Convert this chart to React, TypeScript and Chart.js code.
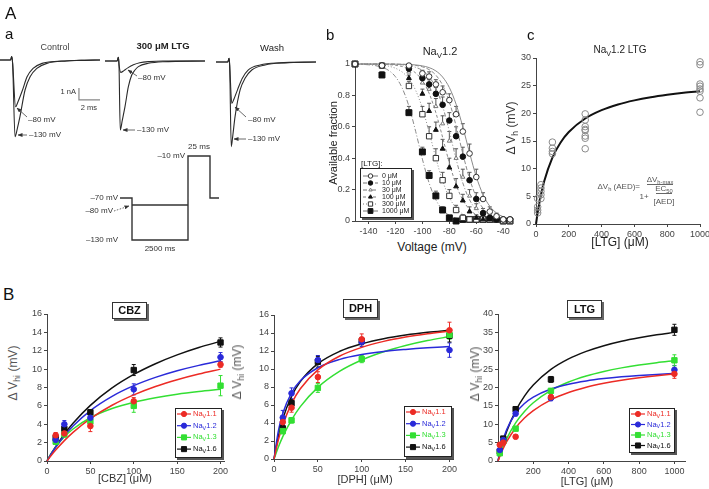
import React, { useEffect, useRef } from 'react';
import { Chart, registerables } from 'chart.js';

Chart.register(...registerables);
const FONT = "'Liberation Sans', Arial, Helvetica, sans-serif";
Chart.defaults.font.family = FONT;

// ================= Panel A-a: Na+ current traces (time ms, current nA) =================
const ctrlT130 = [0, 1.0, 1.11, 1.2, 1.43, 1.65, 1.9, 2.38, 2.86, 3.5, 4.45, 6.35, 8, 9.5];
const ctrlI130 = [0, 0, 0.28, -0.3, -6.4, -5.7, -4.7, -2.5, -1.4, -0.7, -0.28, -0.08, -0.02, 0];
const ctrlT80 = [0, 1.0, 1.11, 1.2, 1.48, 1.7, 2.14, 2.57, 3.14, 4.0, 5.5, 7.5, 9.5];
const ctrlI80 = [0, 0, 0.28, -0.3, -3.9, -3.5, -2.5, -1.4, -0.7, -0.28, -0.1, -0.03, 0];
const ltgT130 = [0, 1.15, 1.27, 1.33, 1.45, 1.65, 1.9, 2.22, 2.54, 2.85, 3.17, 4.12, 5.5, 9.5];
const ltgI130 = [0, 0, 0.3, -0.3, -5.75, -4.9, -3.8, -2.14, -1.17, -0.75, -0.47, -0.19, -0.06, 0];
const ltgT80 = [0, 1.15, 1.27, 1.33, 1.5, 1.8, 2.2, 2.7, 3.3, 4.2, 5.5, 9.5];
const ltgI80 = [0, 0, 0.3, -0.3, -0.95, -0.8, -0.55, -0.32, -0.15, -0.05, 0, 0];
const washT130 = [0, 1.12, 1.24, 1.3, 1.45, 1.6, 1.81, 2.29, 2.76, 3.4, 4.67, 6.5, 9.5];
const washI130 = [0, 0, 0.3, -0.3, -7.05, -6.1, -4.55, -2.33, -1.36, -0.67, -0.25, -0.07, 0];
const washT80 = [0, 1.12, 1.24, 1.3, 1.5, 1.7, 2.05, 2.5, 3.05, 4.2, 6, 9.5];
const washI80 = [0, 0, 0.3, -0.3, -3.45, -3.1, -2.3, -1.35, -0.67, -0.25, -0.07, 0];
const scaleBarT = [7.5, 7.5, 9.5];
const scaleBarI = [-2.33, -3.33, -3.33];

// Voltage protocol (schematic time position, mV)
const protoX = [0, 12, 12, 68, 68, 90, 90, 99];
const protoV = [-70, -70, -130, -130, -10, -10, -70, -70];
const protoX80 = [12, 68];
const protoV80 = [-80, -80];

// ================= Panel A-b: availability vs voltage =================
const bConcLabels = ['0 \u03bcM', '10 \u03bcM', '30 \u03bcM', '100 \u03bcM', '300 \u03bcM', '1000 \u03bcM'];
const bVolt = [-150, -130, -110, -100, -95, -90, -85, -80, -75, -70, -65, -60, -55, -50, -45, -40, -35];
const b0 = [1.0, 0.99, 0.99, 0.94, 0.92, 0.87, 0.82, 0.77, 0.68, 0.57, 0.43, 0.28, 0.14, 0.06, 0.03, 0.01, 0.01];
const b10 = [1.0, 0.99, 0.97, 0.91, 0.87, 0.81, 0.74, 0.64, 0.54, 0.41, 0.26, 0.14, 0.05, 0.02, 0.01, 0.01, 0.01];
const b30 = [1.0, 0.99, 0.95, 0.88, 0.84, 0.73, 0.62, 0.51, 0.4, 0.28, 0.16, 0.08, 0.04, 0.02, 0.01, 0.01, 0.01];
const b100 = [1.0, 0.99, 0.91, 0.81, 0.7, 0.58, 0.46, 0.34, 0.22, 0.13, 0.06, 0.02, 0.01, 0.01, 0.01, 0.01, 0.01];
const b300 = [1.0, 0.99, 0.86, 0.68, 0.54, 0.4, 0.26, 0.16, 0.07, 0.02, 0.01, 0.01, 0.01, 0.01, 0.01, 0.0, 0.0];
const b1000 = [1.0, 0.93, 0.69, 0.44, 0.29, 0.16, 0.07, 0.02, 0.0, 0.01, 0.01, 0.01, 0.01, 0.01, 0.01, 0.0, 0.0];
const bErr0 = [0, 0, 0.01, 0.02, 0.03, 0.03, 0.04, 0.04, 0.05, 0.05, 0.06, 0.05, 0.04, 0.03, 0.02, 0, 0];
const bErr10 = [0, 0, 0.02, 0.03, 0.03, 0.04, 0.05, 0.05, 0.06, 0.06, 0.05, 0.04, 0.03, 0.02, 0, 0, 0];
const bErr30 = [0, 0, 0.02, 0.03, 0.04, 0.05, 0.05, 0.06, 0.06, 0.05, 0.04, 0.03, 0.02, 0.01, 0, 0, 0];
const bErr100 = [0, 0, 0.02, 0.03, 0.05, 0.05, 0.06, 0.06, 0.05, 0.04, 0.03, 0.02, 0.01, 0, 0, 0, 0];
const bErr300 = [0, 0, 0.03, 0.05, 0.06, 0.06, 0.05, 0.04, 0.03, 0.02, 0.01, 0, 0, 0, 0, 0, 0];
const bErr1000 = [0, 0.02, 0.04, 0.03, 0.03, 0.03, 0.02, 0.01, 0, 0, 0, 0, 0, 0, 0, 0, 0];
// Boltzmann fit curves
const bFitV = [-150, -145, -140, -135, -130, -125, -120, -115, -110, -105, -100, -95, -90, -85, -80, -75, -70, -65, -60, -55, -50, -45, -40, -35];
const bFit0 = [1, 1, 1, 1, 1, 1, 0.999, 0.998, 0.997, 0.994, 0.988, 0.977, 0.956, 0.917, 0.85, 0.744, 0.599, 0.434, 0.282, 0.168, 0.094, 0.051, 0.027, 0.014];
const bFit10 = [1, 1, 1, 1, 1, 1, 0.999, 0.998, 0.996, 0.991, 0.982, 0.964, 0.929, 0.865, 0.758, 0.606, 0.429, 0.269, 0.153, 0.081, 0.041, 0.021, 0.01, 0.005];
const bFit30 = [1, 1, 1, 1, 0.999, 0.999, 0.998, 0.995, 0.99, 0.979, 0.959, 0.919, 0.847, 0.731, 0.571, 0.394, 0.242, 0.135, 0.071, 0.036, 0.018, 0.009, 0.004, 0.002];
const bFit100 = [1, 1, 0.999, 0.999, 0.998, 0.996, 0.992, 0.984, 0.97, 0.943, 0.894, 0.813, 0.69, 0.533, 0.37, 0.231, 0.134, 0.074, 0.039, 0.02, 0.011, 0.005, 0.003, 0.001];
const bFit300 = [0.999, 0.999, 0.998, 0.996, 0.993, 0.986, 0.973, 0.949, 0.906, 0.832, 0.718, 0.566, 0.401, 0.256, 0.15, 0.083, 0.044, 0.023, 0.012, 0.006, 0.003, 0.002, 0.001, 0];
const bFit1000 = [0.999, 0.998, 0.995, 0.99, 0.979, 0.959, 0.919, 0.847, 0.731, 0.571, 0.394, 0.242, 0.135, 0.071, 0.036, 0.018, 0.009, 0.004, 0.002, 0.001, 0, 0, 0, 0];
const bXTicks = [-140, -120, -100, -80, -60, -40];
const bYTicks = [0, 0.2, 0.4, 0.6, 0.8, 1];

// ================= Panel A-c: dVh vs [LTG] =================
const cX = [10, 10, 10, 10, 30, 30, 30, 30, 30, 100, 100, 100, 100, 300, 300, 300, 300, 300, 300, 300, 300, 1000, 1000, 1000, 1000, 1000, 1000, 1000, 1000];
const cY = [2.0, 2.5, 3.1, 4.6, 4.6, 5.3, 5.9, 6.5, 7.1, 12.7, 13.1, 13.7, 14.8, 13.6, 15.5, 15.9, 16.9, 17.1, 17.6, 18.8, 19.9, 20.2, 22.8, 24.0, 24.4, 24.9, 25.3, 28.8, 29.3];
const cFitX = [0, 10, 25, 50, 100, 150, 200, 300, 400, 500, 600, 700, 800, 900, 1000];
const cFitY = [0, 2.0, 4.5, 7.71, 12.0, 14.73, 16.62, 19.06, 20.57, 21.6, 22.34, 22.91, 23.35, 23.71, 24.0];
const cXTicks = [0, 200, 400, 600, 800, 1000];
const cYTicks = [0, 5, 10, 15, 20, 25, 30];

// ================= Panel B =================
const seriesNames = ['1.1', '1.2', '1.3', '1.6'];
const seriesColors = ['#ec2b25', '#2a2ad9', '#33df33', '#111111'];
const seriesMarkers = ['circle', 'circle', 'rect', 'rect'];

const cbzConc = [10, 20, 50, 100, 200];
const cbz11 = [2.8, 3.0, 3.8, 6.5, 10.5];
const cbz12 = [2.3, 4.0, 4.7, 7.8, 11.3];
const cbz13 = [2.1, 2.9, 4.3, 6.0, 8.2];
const cbz16 = [2.5, 3.5, 5.3, 9.9, 12.9];
const cbzErr11 = [0.3, 0.3, 0.6, 0.4, 0.3];
const cbzErr12 = [0.3, 0.4, 0.4, 0.6, 0.5];
const cbzErr13 = [0.3, 0.3, 0.5, 0.7, 1.1];
const cbzErr16 = [0.3, 0.4, 0.3, 0.6, 0.5];
const cbzFitX = [0, 5, 10, 20, 30, 50, 75, 100, 125, 150, 175, 200];
const cbzFit11 = [0, 0.62, 1.19, 2.22, 3.12, 4.62, 6.07, 7.2, 8.11, 8.85, 9.47, 10.0];
const cbzFit12 = [0, 0.79, 1.5, 2.75, 3.81, 5.49, 7.04, 8.2, 9.1, 9.82, 10.41, 10.9];
const cbzFit13 = [0, 0.82, 1.51, 2.63, 3.48, 4.71, 5.71, 6.4, 6.89, 7.27, 7.56, 7.8];
const cbzFit16 = [0, 0.82, 1.57, 2.93, 4.11, 6.06, 7.95, 9.42, 10.59, 11.55, 12.35, 13.02];

const dphConc = [10, 20, 50, 100, 200];
const dph11 = [4.1, 5.7, 9.1, 13.3, 14.3];
const dph12 = [4.6, 7.3, 11.0, 13.0, 12.1];
const dph13 = [3.1, 4.3, 7.9, 11.1, 13.8];
const dph16 = [3.4, 6.2, 10.8, 13.1, 13.7];
const dphErr11 = [0.4, 0.5, 0.6, 0.6, 0.9];
const dphErr12 = [0.8, 0.6, 0.5, 0.5, 0.8];
const dphErr13 = [0.3, 0.3, 0.5, 0.4, 0.5];
const dphErr16 = [0.4, 0.4, 0.6, 0.4, 0.7];
const dphFitX = [0, 5, 10, 20, 30, 50, 75, 100, 125, 150, 175, 200];
const dphFit11 = [0, 2.13, 3.78, 6.16, 7.8, 9.9, 11.44, 12.4, 13.07, 13.55, 13.91, 14.2];
const dphFit12 = [0, 3.11, 5.06, 7.36, 8.69, 10.14, 11.07, 11.6, 11.95, 12.18, 12.36, 12.5];
const dphFit13 = [0, 1.33, 2.48, 4.35, 5.82, 7.96, 9.76, 11.0, 11.91, 12.61, 13.16, 13.6];
const dphFit16 = [0, 2.57, 4.44, 6.97, 8.6, 10.59, 11.97, 12.8, 13.37, 13.77, 14.07, 14.3];

const ltgConc = [10, 30, 100, 300, 1000];
const ltg11 = [4.4, 5.0, 6.6, 17.4, 23.7];
const ltg12 = [3.0, 5.7, 12.9, 17.1, 24.8];
const ltg13 = [2.1, 5.4, 8.8, 19.1, 27.4];
const ltg16 = [2.6, 6.1, 14.1, 22.2, 35.7];
const ltgErr11 = [0.4, 0.4, 0.5, 0.6, 1.2];
const ltgErr12 = [0.4, 0.4, 0.6, 0.7, 1.2];
const ltgErr13 = [0.3, 0.4, 0.6, 0.6, 1.5];
const ltgErr16 = [0.4, 0.4, 0.6, 0.8, 1.5];
const ltgFitX = [0, 10, 25, 50, 100, 150, 200, 300, 400, 500, 600, 700, 800, 900, 1000];
const ltgFit11 = [0, 1.25, 2.93, 5.33, 9.0, 11.68, 13.73, 16.65, 18.63, 20.06, 21.14, 21.99, 22.67, 23.23, 23.7];
const ltgFit12 = [0, 2.35, 5.17, 8.64, 13.0, 15.63, 17.38, 19.58, 20.91, 21.79, 22.42, 22.9, 23.27, 23.56, 23.8];
const ltgFit13 = [0, 1.44, 3.39, 6.15, 10.39, 13.48, 15.84, 19.2, 21.48, 23.12, 24.36, 25.34, 26.12, 26.76, 27.3];
const ltgFit16 = [0, 1.93, 4.51, 8.14, 13.66, 17.65, 20.66, 24.91, 27.77, 29.82, 31.37, 32.58, 33.54, 34.34, 35.0];

const smallXTicks = [0, 50, 100, 150, 200];
const smallYTicks = [0, 2, 4, 6, 8, 10, 12, 14, 16];
const ltgXTicks = [200, 400, 600, 800, 1000];
const ltgYTicks = [0, 5, 10, 15, 20, 25, 30, 35, 40];

// ================= helpers =================
const pts = (xs: number[], ys: number[]) => xs.map((x, i) => ({ x, y: ys[i] }));

function axis(min: number, max: number, ticks: number[], isY: boolean, size: number) {
  return {
    type: 'linear',
    min,
    max,
    afterBuildTicks: (s: any) => {
      s.ticks = ticks.map((v) => ({ value: v }));
    },
    afterFit: (s: any) => {
      if (isY) s.width = size;
      else s.height = size;
      s.paddingLeft = 0;
      s.paddingRight = 0;
      s.paddingTop = 0;
      s.paddingBottom = 0;
    },
    grid: { display: true, drawOnChartArea: false, drawTicks: true, tickLength: 3, color: '#444', lineWidth: 1 },
    border: { display: true, color: '#444', width: 1 },
    ticks: {
      font: { size: 9, family: FONT }, color: '#444', padding: 2, autoSkip: false, maxRotation: 0, minRotation: 0,
      callback: (v: any) => String(v),
    },
  };
}

function drawMarker(ctx: CanvasRenderingContext2D, style: string, x: number, y: number, r: number, fill: string, stroke: string) {
  ctx.beginPath();
  if (style === 'circle') ctx.arc(x, y, r, 0, Math.PI * 2);
  else if (style === 'rect') {
    const s = r * Math.SQRT1_2;
    ctx.rect(x - s, y - s, 2 * s, 2 * s);
  } else if (style === 'triangle') {
    ctx.moveTo(x, y - r);
    ctx.lineTo(x + r * 0.866, y + r * 0.5);
    ctx.lineTo(x - r * 0.866, y + r * 0.5);
    ctx.closePath();
  }
  ctx.fillStyle = fill;
  ctx.fill();
  ctx.strokeStyle = stroke;
  ctx.lineWidth = 1;
  ctx.stroke();
}

type Part = { t: string; sub?: boolean };
function drawRich(ctx: CanvasRenderingContext2D, parts: Part[], x: number, y: number, size: number, color: string) {
  let cx = x;
  ctx.fillStyle = color;
  ctx.textBaseline = 'middle';
  ctx.textAlign = 'left';
  parts.forEach((p) => {
    const s = p.sub ? size * 0.72 : size;
    ctx.font = `${s}px ${FONT}`;
    ctx.fillText(p.t, cx, y + (p.sub ? size * 0.32 : 0));
    cx += ctx.measureText(p.t).width;
  });
}

type LegItem = { parts: Part[]; color: string; textColor: string; style: string; r: number; fill: string; stroke: string; dash: number[]; lw: number };
type LegCfg = { dx: number; dy: number; w: number; h: number; first: number; step: number; lx0: number; lx1: number; tx: number; size: number; items: LegItem[] };

function legendPlugin(cfg: LegCfg) {
  return {
    id: 'boxLegend',
    afterDraw(chart: any) {
      const ctx: CanvasRenderingContext2D = chart.ctx;
      const ca = chart.chartArea;
      const x = Math.round(ca.left + cfg.dx);
      const y = Math.round(ca.bottom + cfg.dy);
      ctx.save();
      ctx.fillStyle = '#555';
      ctx.fillRect(x + 2, y + 2, cfg.w, cfg.h);
      ctx.fillStyle = '#fff';
      ctx.fillRect(x, y, cfg.w, cfg.h);
      ctx.strokeStyle = '#222';
      ctx.lineWidth = 1;
      ctx.strokeRect(x + 0.5, y + 0.5, cfg.w - 1, cfg.h - 1);
      cfg.items.forEach((it, i) => {
        const cy = y + cfg.first + i * cfg.step;
        ctx.strokeStyle = it.color;
        ctx.lineWidth = it.lw;
        ctx.setLineDash(it.dash);
        ctx.beginPath();
        ctx.moveTo(x + cfg.lx0, cy);
        ctx.lineTo(x + cfg.lx1, cy);
        ctx.stroke();
        ctx.setLineDash([]);
        drawMarker(ctx, it.style, x + (cfg.lx0 + cfg.lx1) / 2, cy, it.r, it.fill, it.stroke);
        drawRich(ctx, it.parts, x + cfg.tx, cy, cfg.size, it.textColor);
      });
      ctx.restore();
    },
  };
}

const errPlugin = {
  id: 'errBars',
  beforeDatasetsDraw(chart: any) {
    const ctx: CanvasRenderingContext2D = chart.ctx;
    const xs = chart.scales.x;
    const ys = chart.scales.y;
    chart.data.datasets.forEach((ds: any) => {
      if (!ds.errs) return;
      ctx.save();
      ctx.strokeStyle = ds.errColor;
      ctx.lineWidth = 1;
      ds.data.forEach((p: any, j: number) => {
        const e = ds.errs[j];
        if (!e) return;
        const px = xs.getPixelForValue(p.x);
        const yTop = ys.getPixelForValue(p.y + e);
        const yBot = ds.errUp ? ys.getPixelForValue(p.y) : ys.getPixelForValue(p.y - e);
        const cap = 2;
        ctx.beginPath();
        ctx.moveTo(px, yTop);
        ctx.lineTo(px, yBot);
        ctx.moveTo(px - cap, yTop);
        ctx.lineTo(px + cap, yTop);
        if (!ds.errUp) {
          ctx.moveTo(px - cap, yBot);
          ctx.lineTo(px + cap, yBot);
        }
        ctx.stroke();
      });
      ctx.restore();
    });
  },
};

type Spec = { l: number; t: number; r: number; b: number; ml: number; mt: number; mr: number; mb: number; axes: boolean; make: (s: Spec, pad: any) => any };

function ChartView({ s }: { s: Spec }) {
  const ref = useRef<HTMLCanvasElement | null>(null);
  const left = s.l - s.ml;
  const top = s.t - s.mt;
  const w = s.r - s.l + s.ml + s.mr;
  const h = s.b - s.t + s.mt + s.mb;
  useEffect(() => {
    const pad = s.axes ? { left: 0, top: s.mt, right: s.mr, bottom: 0 } : { left: s.ml, top: s.mt, right: s.mr, bottom: s.mb };
    const chart = new Chart(ref.current as HTMLCanvasElement, s.make(s, pad));
    return () => chart.destroy();
  }, []);
  return <canvas ref={ref} width={w} height={h} style={{ position: 'absolute', left, top, width: w, height: h }} />;
}

const baseOpts = (pad: any, scales: any) => ({
  responsive: false,
  animation: false,
  events: [],
  layout: { padding: pad },
  scales,
  plugins: { legend: { display: false }, tooltip: { enabled: false } },
});

type TraceSet = { t: number[]; i: number[]; color?: string; width?: number; sharp?: boolean };
function traceMaker(sets: TraceSet[], xr: number[], yr: number[]) {
  return (_s: Spec, pad: any) => ({
    type: 'line',
    data: {
      datasets: sets.map((d) => ({
        data: pts(d.t, d.i),
        borderColor: d.color || '#2a2a2a',
        borderWidth: d.width || 1.1,
        pointRadius: 0,
        cubicInterpolationMode: d.sharp ? 'default' : 'monotone',
        tension: 0,
        clip: false,
      })),
    },
    options: baseOpts(pad, {
      x: { type: 'linear', display: false, min: xr[0], max: xr[1] },
      y: { type: 'linear', display: false, min: yr[0], max: yr[1] },
    }),
  });
}

// ---------- panel b ----------
const bSeries = [b0, b10, b30, b100, b300, b1000];
const bErrs = [bErr0, bErr10, bErr30, bErr100, bErr300, bErr1000];
const bFits = [bFit0, bFit10, bFit30, bFit100, bFit300, bFit1000];
const bStyle = ['circle', 'circle', 'triangle', 'triangle', 'rect', 'rect'];
const bFill = ['#ffffff', '#111111', '#ffffff', '#111111', '#ffffff', '#111111'];
const bStroke = ['#333333', '#111111', '#777777', '#111111', '#333333', '#111111'];
const bRad = [2.8, 2.8, 2.4, 2.8, 3.8, 4.2];
const bDash = [[], [4, 2], [4, 2, 1, 2], [3, 2], [1, 2], [5, 2, 1, 2]];

const makeB = (s: Spec, pad: any) => ({
  type: 'line',
  data: {
    datasets: [
      ...bSeries.map((ser, i) => ({
        data: pts(bVolt, ser),
        showLine: false,
        pointStyle: bStyle[i],
        pointRadius: bRad[i],
        pointBackgroundColor: bFill[i],
        pointBorderColor: bStroke[i],
        pointBorderWidth: 1,
        borderColor: bStroke[i],
        errs: bErrs[i],
        errColor: '#555',
        errUp: true,
        clip: false,
      })),
      ...bFits.map((f, i) => ({
        data: pts(bFitV, f),
        borderColor: '#8a8a8a',
        borderWidth: 1,
        borderDash: bDash[i],
        pointRadius: 0,
        cubicInterpolationMode: 'monotone',
        clip: false,
      })),
    ],
  },
  options: baseOpts(pad, { x: axis(-150, -35, bXTicks, false, s.mb), y: axis(0, 1, bYTicks, true, s.ml) }),
  plugins: [
    errPlugin,
    legendPlugin({
      dx: 5, dy: -53, w: 52, h: 50, first: 8, step: 7, lx0: 3, lx1: 18, tx: 22, size: 7,
      items: bConcLabels.map((lab, i) => ({
        parts: [{ t: lab }], color: '#777', textColor: '#222', style: bStyle[i], r: bRad[i] * 0.8,
        fill: bFill[i], stroke: bStroke[i], dash: bDash[i], lw: 1,
      })),
    }),
  ],
});

// ---------- panel c ----------
const makeC = (s: Spec, pad: any) => ({
  type: 'line',
  data: {
    datasets: [
      {
        data: pts(cX, cY), showLine: false, pointStyle: 'circle', pointRadius: 3.3,
        pointBackgroundColor: 'rgba(0,0,0,0)', pointBorderColor: '#8a8a8a', pointBorderWidth: 1, borderColor: '#8a8a8a', clip: false,
      },
      { data: pts(cFitX, cFitY), borderColor: '#111', borderWidth: 2, pointRadius: 0, cubicInterpolationMode: 'monotone', clip: false },
    ],
  },
  options: baseOpts(pad, { x: axis(0, 1000, cXTicks, false, s.mb), y: axis(0, 30, cYTicks, true, s.ml) }),
});

// ---------- panel B ----------
function makeDrug(conc: number[], means: number[][], errs: number[][], fitX: number[], fits: number[][], xr: number[], xt: number[], yr: number[], yt: number[], leg: { dx: number; dy: number; w: number; h: number; step: number }) {
  return (s: Spec, pad: any) => ({
    type: 'line',
    data: {
      datasets: [
        ...means.map((m, i) => ({
          data: pts(conc, m), showLine: false, pointStyle: seriesMarkers[i], pointRadius: seriesMarkers[i] === 'rect' ? 3.8 : 2.8,
          pointBackgroundColor: seriesColors[i], pointBorderColor: seriesColors[i], pointBorderWidth: 1, borderColor: seriesColors[i],
          errs: errs[i], errColor: seriesColors[i], errUp: false, clip: false,
        })),
        ...fits.map((f, i) => ({
          data: pts(fitX, f), borderColor: seriesColors[i], borderWidth: 1.5, pointRadius: 0, cubicInterpolationMode: 'monotone', clip: false,
        })),
      ],
    },
    options: baseOpts(pad, { x: axis(xr[0], xr[1], xt, false, s.mb), y: axis(yr[0], yr[1], yt, true, s.ml) }),
    plugins: [
      errPlugin,
      legendPlugin({
        dx: leg.dx, dy: leg.dy, w: leg.w, h: leg.h, first: 6, step: leg.step, lx0: 2, lx1: 16, tx: 18, size: 7.5,
        items: seriesNames.map((n, i) => ({
          parts: [{ t: 'Na' }, { t: 'V', sub: true }, { t: n }], color: seriesColors[i], textColor: seriesColors[i],
          style: seriesMarkers[i], r: seriesMarkers[i] === 'rect' ? 3.6 : 2.6, fill: seriesColors[i], stroke: seriesColors[i], dash: [], lw: 1.2,
        })),
      }),
    ],
  });
}

const specs: Spec[] = [
  { l: 0, t: 48, r: 100, b: 150, ml: 2, mt: 2, mr: 2, mb: 2, axes: false,
    make: traceMaker([{ t: ctrlT130, i: ctrlI130 }, { t: ctrlT80, i: ctrlI80 }, { t: scaleBarT, i: scaleBarI, color: '#888', width: 1.2, sharp: true }], [0, 9.5], [-7.5, 1]) },
  { l: 105, t: 49, r: 205, b: 151, ml: 2, mt: 2, mr: 2, mb: 2, axes: false,
    make: traceMaker([{ t: ltgT130, i: ltgI130 }, { t: ltgT80, i: ltgI80 }], [0, 9.5], [-7.5, 1]) },
  { l: 216, t: 50, r: 316, b: 152, ml: 2, mt: 2, mr: 2, mb: 2, axes: false,
    make: traceMaker([{ t: washT130, i: washI130 }, { t: washT80, i: washI80 }], [0, 9.5], [-7.5, 1]) },
  { l: 120, t: 156, r: 219, b: 240, ml: 3, mt: 3, mr: 3, mb: 3, axes: false,
    make: traceMaker([{ t: protoX, i: protoV, color: '#333', width: 1.4, sharp: true }, { t: protoX80, i: protoV80, color: '#333', width: 1.4, sharp: true }], [0, 99], [-130, -10]) },
  { l: 355, t: 64, r: 510, b: 221, ml: 24, mt: 6, mr: 8, mb: 16, axes: true, make: makeB },
  { l: 536, t: 58, r: 700, b: 224, ml: 20, mt: 6, mr: 9, mb: 16, axes: true, make: makeC },
  { l: 47, t: 313, r: 224, b: 461, ml: 22, mt: 4, mr: 8, mb: 14, axes: true,
    make: makeDrug(cbzConc, [cbz11, cbz12, cbz13, cbz16], [cbzErr11, cbzErr12, cbzErr13, cbzErr16], cbzFitX, [cbzFit11, cbzFit12, cbzFit13, cbzFit16], [0, 204], smallXTicks, [0, 16], smallYTicks, { dx: 128, dy: -53, w: 47, h: 50, step: 11.7 }) },
  { l: 274, t: 314, r: 453, b: 459, ml: 22, mt: 4, mr: 8, mb: 14, axes: true,
    make: makeDrug(dphConc, [dph11, dph12, dph13, dph16], [dphErr11, dphErr12, dphErr13, dphErr16], dphFitX, [dphFit11, dphFit12, dphFit13, dphFit16], [0, 204], smallXTicks, [0, 16], smallYTicks, { dx: 130, dy: -53, w: 48, h: 51, step: 11.7 }) },
  { l: 498, t: 313, r: 685, b: 461, ml: 22, mt: 4, mr: 10, mb: 14, axes: true,
    make: makeDrug(ltgConc, [ltg11, ltg12, ltg13, ltg16], [ltgErr11, ltgErr12, ltgErr13, ltgErr16], ltgFitX, [ltgFit11, ltgFit12, ltgFit13, ltgFit16], [0, 1060], ltgXTicks, [0, 40], ltgYTicks, { dx: 131, dy: -53, w: 46, h: 45, step: 10.5 }) },
];

// ---------- HTML text ----------
const Sub = ({ children }: any) => <span style={{ fontSize: '0.72em', position: 'relative', top: '0.35em' }}>{children}</span>;

function Txt({ x, y, a = 'l', s = 9, b = false, c = '#333', rot = false, children }: any) {
  const tx = a === 'c' ? '-50%' : a === 'r' ? '-100%' : '0';
  return (
    <div
      style={{
        position: 'absolute', left: x, top: y, transform: `translate(${tx}, -50%)${rot ? ' rotate(-90deg)' : ''}`,
        fontSize: s, fontWeight: b ? 'bold' : 'normal', color: c, whiteSpace: 'nowrap', lineHeight: 1,
      }}
    >
      {children}
    </div>
  );
}

function DrugBox({ x, y, w, h, label }: any) {
  return (
    <div
      style={{
        position: 'absolute', left: x, top: y, width: w, height: h, boxSizing: 'border-box', border: '1.5px solid #333',
        boxShadow: '2px 2px 0 #666', background: '#fff', fontWeight: 'bold', fontSize: 11, color: '#111',
        display: 'flex', alignItems: 'center', justifyContent: 'center', lineHeight: 1,
      }}
    >
      {label}
    </div>
  );
}

const Arrow = ({ x1, y1, x2, y2, dash }: any) => (
  <line x1={x1} y1={y1} x2={x2} y2={y2} stroke="#444" strokeWidth={0.8} strokeDasharray={dash ? '1.5 1.5' : undefined} markerEnd="url(#ah)" />
);

export default function App() {
  return (
    <div style={{ position: 'absolute', left: 0, top: 0, width: 709, height: 489, background: '#fff', overflow: 'hidden', fontFamily: FONT, color: '#333' }}>
      {specs.map((s, i) => (
        <ChartView key={i} s={s} />
      ))}

      <svg width={330} height={260} style={{ position: 'absolute', left: 0, top: 0 }}>
        <defs>
          <marker id="ah" markerWidth="5" markerHeight="4" refX="4.5" refY="2" orient="auto" markerUnits="userSpaceOnUse">
            <path d="M0,0 L5,2 L0,4 Z" fill="#333" />
          </marker>
        </defs>
        <Arrow x1={27} y1={117} x2={17} y2={108} />
        <Arrow x1={27} y1={135} x2={18} y2={135} />
        <Arrow x1={137} y1={76} x2={128} y2={70} />
        <Arrow x1={135} y1={130} x2={123} y2={130} />
        <Arrow x1={246} y1={117} x2={235} y2={107} />
        <Arrow x1={246} y1={139} x2={234} y2={139} />
        <Arrow x1={114} y1={211} x2={129} y2={206} dash />
      </svg>

      {/* panel letters */}
      <Txt x={5} y={13} s={17} c="#111">A</Txt>
      <Txt x={5} y={33} s={15} c="#111">a</Txt>
      <Txt x={326} y={34} s={15} c="#111">b</Txt>
      <Txt x={527} y={34} s={15} c="#111">c</Txt>
      <Txt x={3} y={294} s={17} c="#111">B</Txt>

      {/* panel a */}
      <Txt x={55} y={47} a="c" s={9} c="#444">Control</Txt>
      <Txt x={163} y={46} a="c" s={9.5} b c="#222">300 μM LTG</Txt>
      <Txt x={272} y={48} a="c" s={9.5} c="#222">Wash</Txt>
      <Txt x={28} y={120} s={8}>–80 mV</Txt>
      <Txt x={29} y={135} s={8}>–130 mV</Txt>
      <Txt x={138} y={78} s={8}>–80 mV</Txt>
      <Txt x={137} y={130} s={8}>–130 mV</Txt>
      <Txt x={248} y={120} s={8}>–80 mV</Txt>
      <Txt x={248} y={139} s={8}>–130 mV</Txt>
      <Txt x={76} y={92} a="r" s={7.5}>1 nA</Txt>
      <Txt x={89} y={108} a="c" s={7.5}>2 ms</Txt>
      <Txt x={185} y={156} a="r" s={8}>–10 mV</Txt>
      <Txt x={199} y={147} a="c" s={8}>25 ms</Txt>
      <Txt x={118} y={198} a="r" s={8}>–70 mV</Txt>
      <Txt x={113} y={211} a="r" s={8}>–80 mV</Txt>
      <Txt x={118} y={240} a="r" s={8}>–130 mV</Txt>
      <Txt x={160} y={249} a="c" s={8}>2500 ms</Txt>

      {/* panel b */}
      <Txt x={440} y={51} a="c" s={11} c="#222">Na<Sub>V</Sub>1.2</Txt>
      <Txt x={333} y={143} a="c" s={11} rot c="#222">Available fraction</Txt>
      <Txt x={432} y={247} a="c" s={12} c="#222">Voltage (mV)</Txt>
      <Txt x={361} y={164} s={8} c="#222">[LTG]:</Txt>

      {/* panel c */}
      <Txt x={620} y={50} a="c" s={10} c="#222">Na<Sub>V</Sub>1.2 LTG</Txt>
      <Txt x={511} y={128} a="c" s={12} rot c="#333">Δ V<Sub>h</Sub> (mV)</Txt>
      <Txt x={620} y={242} a="c" s={12} c="#222">[LTG] (μM)</Txt>
      <Txt x={640} y={187} a="r" s={8} c="#555">ΔV<Sub>h</Sub> (AED)=</Txt>
      <Txt x={660} y={180} a="c" s={8} c="#555">ΔV<Sub>h-max</Sub></Txt>
      <div style={{ position: 'absolute', left: 647, top: 184, width: 26, height: 1, background: '#666' }} />
      <Txt x={644} y={197} a="c" s={8} c="#555">1+</Txt>
      <Txt x={664} y={189} a="c" s={8} c="#555">EC<Sub>50</Sub></Txt>
      <div style={{ position: 'absolute', left: 656, top: 193, width: 16, height: 1, background: '#666' }} />
      <Txt x={664} y={202} a="c" s={8} c="#555">[AED]</Txt>

      {/* panel B */}
      <DrugBox x={112} y={302} w={35} h={17} label="CBZ" />
      <DrugBox x={343} y={299} w={35} h={19} label="DPH" />
      <DrugBox x={567} y={300} w={35} h={18} label="LTG" />
      <Txt x={13} y={373} a="c" s={12} rot c="#555">Δ V<Sub>hi</Sub> (mV)</Txt>
      <Txt x={237} y={372} a="c" s={12} rot c="#555">Δ V<Sub>hi</Sub> (mV)</Txt>
      <Txt x={475} y={374} a="c" s={12} rot c="#555">Δ V<Sub>hi</Sub> (mV)</Txt>
      <Txt x={125} y={478} a="c" s={11} c="#333">[CBZ] (μM)</Txt>
      <Txt x={365} y={479} a="c" s={11} c="#333">[DPH] (μM)</Txt>
      <Txt x={587} y={481} a="c" s={11} c="#333">[LTG] (μM)</Txt>
    </div>
  );
}
